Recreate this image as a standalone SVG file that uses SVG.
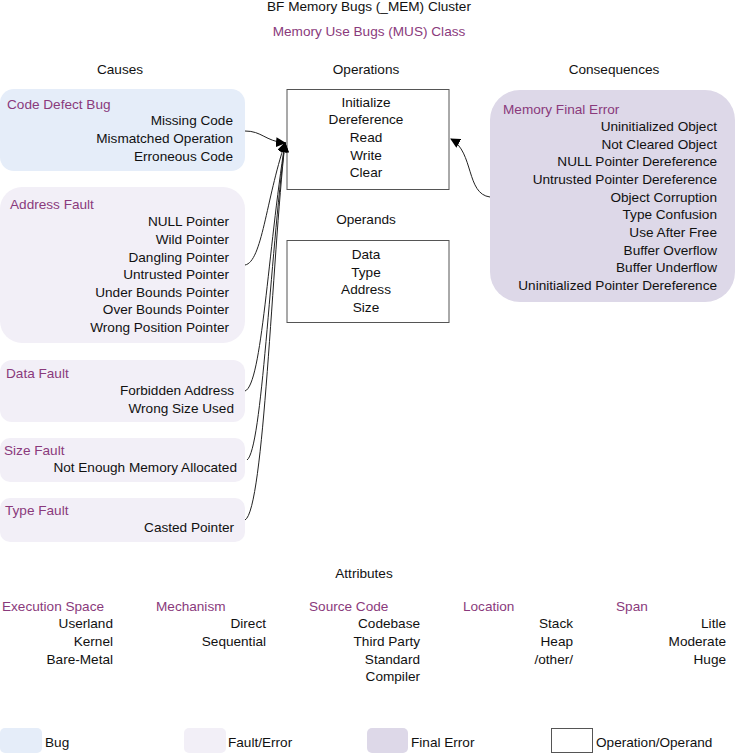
<svg xmlns="http://www.w3.org/2000/svg" width="735" height="754" viewBox="0 0 735 754">
<defs>
<style>
text{font-family:"Liberation Sans",Arial,sans-serif;font-size:13.6px;fill:#111}
.p{fill:#8A3A7C}
.m{text-anchor:middle}
.r{text-anchor:end}
.bug{fill:#E5EDF9}
.fault{fill:#F2EFF7}
.final{fill:#DDD8E8}
.op{fill:#fff;stroke:#555;stroke-width:1}
.c{fill:none;stroke:#222;stroke-width:1}
</style>
<marker id="ah" markerWidth="10" markerHeight="10" refX="9" refY="5" orient="auto" markerUnits="userSpaceOnUse">
<path d="M0,0 L10,5 L0,10 z" fill="#000"/>
</marker>
</defs>
<rect width="735" height="754" fill="#fff"/>
<g id="titles">
<text class="m" x="369" y="11">BF Memory Bugs (_MEM) Cluster</text>
<text class="m p" x="369" y="36">Memory Use Bugs (MUS) Class</text>
<text class="m" x="120" y="74">Causes</text>
<text class="m" x="366" y="74">Operations</text>
<text class="m" x="614" y="74">Consequences</text>
<text class="m" x="366" y="224">Operands</text>
</g>
<g id="code-defect-bug">
<rect class="bug" x="0" y="89" width="245" height="82" rx="14"/>
<text class="p" x="7" y="109">Code Defect Bug</text>
<text class="r" x="233" y="125">Missing Code</text>
<text class="r" x="233" y="143">Mismatched Operation</text>
<text class="r" x="233" y="161">Erroneous Code</text>
</g>
<g id="address-fault">
<rect class="fault" x="0" y="187" width="245" height="156" rx="22"/>
<text class="p" x="10" y="209">Address Fault</text>
<text class="r" x="229" y="226">NULL Pointer</text>
<text class="r" x="229" y="244">Wild Pointer</text>
<text class="r" x="229" y="262">Dangling Pointer</text>
<text class="r" x="229" y="279">Untrusted Pointer</text>
<text class="r" x="229" y="297">Under Bounds Pointer</text>
<text class="r" x="229" y="314">Over Bounds Pointer</text>
<text class="r" x="229" y="332">Wrong Position Pointer</text>
</g>
<g id="data-fault">
<rect class="fault" x="0" y="360" width="245" height="62" rx="12"/>
<text class="p" x="6" y="378">Data Fault</text>
<text class="r" x="234" y="395">Forbidden Address</text>
<text class="r" x="234" y="413">Wrong Size Used</text>
</g>
<g id="size-fault">
<rect class="fault" x="0" y="438" width="245" height="44" rx="10"/>
<text class="p" x="4" y="455">Size Fault</text>
<text class="r" x="237" y="472">Not Enough Memory Allocated</text>
</g>
<g id="type-fault">
<rect class="fault" x="0" y="498" width="245" height="44" rx="10"/>
<text class="p" x="5" y="515">Type Fault</text>
<text class="r" x="234" y="532">Casted Pointer</text>
</g>
<g id="operations">
<rect class="op" x="287" y="89.5" width="162" height="100"/>
<text class="m" x="366" y="107">Initialize</text>
<text class="m" x="366" y="124">Dereference</text>
<text class="m" x="366" y="142">Read</text>
<text class="m" x="366" y="160">Write</text>
<text class="m" x="366" y="177">Clear</text>
</g>
<g id="operands">
<rect class="op" x="287" y="240.5" width="162" height="82"/>
<text class="m" x="366" y="259">Data</text>
<text class="m" x="366" y="277">Type</text>
<text class="m" x="366" y="294">Address</text>
<text class="m" x="366" y="312">Size</text>
</g>
<g id="memory-final-error">
<rect class="final" x="490" y="90" width="245" height="212" rx="30"/>
<text class="p" x="503" y="114">Memory Final Error</text>
<text class="r" x="717" y="131">Uninitialized Object</text>
<text class="r" x="717" y="149">Not Cleared Object</text>
<text class="r" x="717" y="166">NULL Pointer Dereference</text>
<text class="r" x="717" y="184">Untrusted Pointer Dereference</text>
<text class="r" x="717" y="202">Object Corruption</text>
<text class="r" x="717" y="219">Type Confusion</text>
<text class="r" x="717" y="237">Use After Free</text>
<text class="r" x="717" y="255">Buffer Overflow</text>
<text class="r" x="717" y="272">Buffer Underflow</text>
<text class="r" x="717" y="290">Uninitialized Pointer Dereference</text>
</g>
<g id="connectors">
<path class="c" d="M245,131 C262,131 265,141 285,143" marker-end="url(#ah)"/>
<path class="c" d="M245,265 C262,262 266,200 285,143" marker-end="url(#ah)"/>
<path class="c" d="M245,391 C262,385 268,250 285,143" marker-end="url(#ah)"/>
<path class="c" d="M247,460 C262,450 270,260 285,143" marker-end="url(#ah)"/>
<path class="c" d="M245,520 C264,510 272,260 285,143" marker-end="url(#ah)"/>
<path class="c" d="M490,197 C466,194 474,152 451,139" marker-end="url(#ah)"/>
</g>
<g id="attributes">
<text class="m" x="364" y="578">Attributes</text>
<text class="p" x="2" y="611">Execution Space</text>
<text class="r" x="113" y="628">Userland</text>
<text class="r" x="113" y="646">Kernel</text>
<text class="r" x="113" y="664">Bare-Metal</text>
<text class="p" x="156" y="611">Mechanism</text>
<text class="r" x="266" y="628">Direct</text>
<text class="r" x="266" y="646">Sequential</text>
<text class="p" x="309" y="611">Source Code</text>
<text class="r" x="420" y="628">Codebase</text>
<text class="r" x="420" y="646">Third Party</text>
<text class="r" x="420" y="664">Standard</text>
<text class="r" x="420" y="681">Compiler</text>
<text class="p" x="463" y="611">Location</text>
<text class="r" x="573" y="628">Stack</text>
<text class="r" x="573" y="646">Heap</text>
<text class="r" x="573" y="664">/other/</text>
<text class="p" x="616" y="611">Span</text>
<text class="r" x="726" y="628">Litle</text>
<text class="r" x="726" y="646">Moderate</text>
<text class="r" x="726" y="664">Huge</text>
</g>
<g id="legend">
<rect class="bug" x="0" y="728" width="42" height="25" rx="5"/>
<text x="45" y="747">Bug</text>
<rect class="fault" x="184" y="728" width="42" height="25" rx="5"/>
<text x="228" y="747">Fault/Error</text>
<rect class="final" x="367" y="728" width="41" height="25" rx="5"/>
<text x="411" y="747">Final Error</text>
<rect class="op" x="551.5" y="728.5" width="41" height="24"/>
<text x="596" y="747">Operation/Operand</text>
</g>
</svg>
